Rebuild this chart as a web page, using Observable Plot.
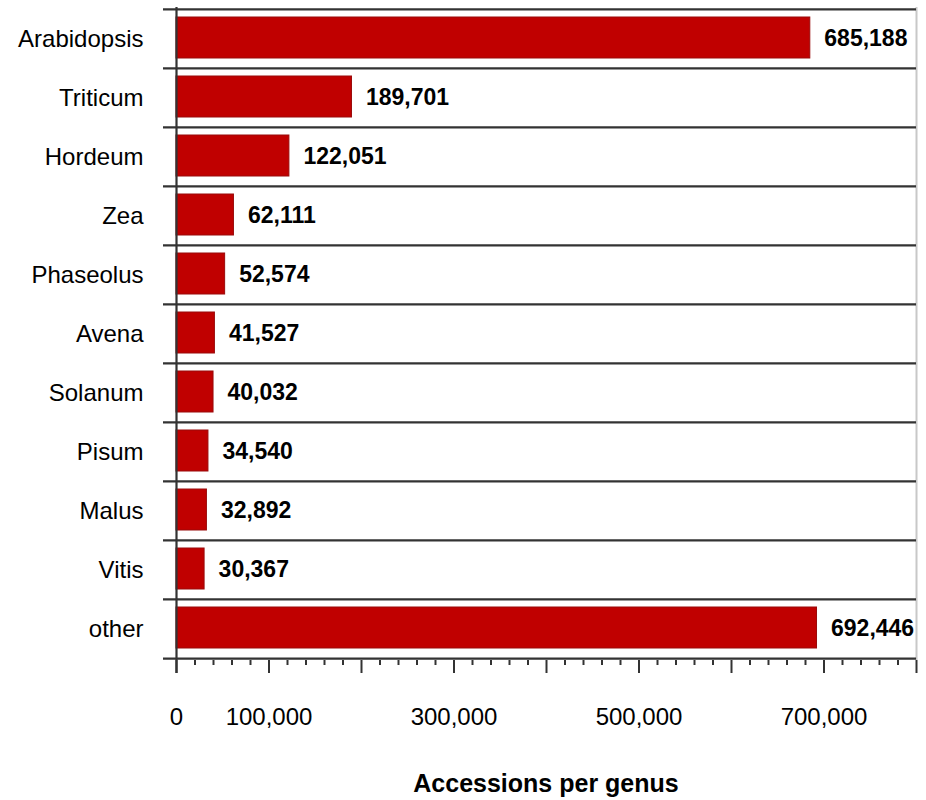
<!DOCTYPE html>
<html>
<head>
<meta charset="utf-8">
<script src="https://cdn.jsdelivr.net/npm/d3@7"></script>
<script src="https://cdn.jsdelivr.net/npm/@observablehq/plot@0.6"></script>
<style>
  body { margin: 0; background: white; font-family: "Liberation Sans", Arial, sans-serif; }
  #xlabel { margin-left: 176px; width: 740px; text-align: center; font-weight: bold; font-size: 25px; line-height: 46px; color: #000; }
</style>
</head>
<body>
<div id="chart"></div>
<div id="xlabel">Accessions per genus</div>
<script>
const genera = ["Arabidopsis", "Triticum", "Hordeum", "Zea", "Phaseolus", "Avena", "Solanum", "Pisum", "Malus", "Vitis", "other"];
const accessions = [685188, 189701, 122051, 62111, 52574, 41527, 40032, 34540, 32892, 30367, 692446];
const labelTicks = [0, 100000, 300000, 500000, 700000];
const majorTicks = [0, 100000, 200000, 300000, 400000, 500000, 600000, 700000, 800000];
const minorTicks = [20000, 40000, 60000, 80000, 120000, 140000, 160000, 180000, 220000, 240000, 260000, 280000,
  320000, 340000, 360000, 380000, 420000, 440000, 460000, 480000, 520000, 540000, 560000, 580000,
  620000, 640000, 660000, 680000, 720000, 740000, 760000, 780000];

const data = genera.map((g, i) => ({genus: g, value: accessions[i]}));

const W = 926, H = 760, mt = 7, mb = 100, ml = 176, mr = 10;
const bw = (H - mt - mb) / genera.length;
const fmt = d3.format(",");

const chart = Plot.plot({
  width: W,
  height: H,
  marginTop: mt,
  marginBottom: mb,
  marginLeft: ml,
  marginRight: mr,
  style: {fontFamily: "'Liberation Sans', Arial, sans-serif", background: "white"},
  x: {domain: [0, 800000]},
  y: {domain: genera, padding: 0},
  marks: [
    Plot.barX(data, {y: "genus", x: "value", fill: "#c00000", stroke: "#9a0a0a", strokeWidth: 1, insetTop: 8, insetBottom: 10}),
    Plot.ruleX([800000], {stroke: "#c8c8c8", strokeWidth: 2}),
    Plot.ruleY(genera, {y: d => d, dy: -bw / 2, stroke: "#333", strokeWidth: 2.2, insetLeft: -13}),
    Plot.ruleY([genera[genera.length - 1]], {y: d => d, dy: bw / 2, stroke: "#333", strokeWidth: 2.2, insetLeft: -13}),
    Plot.ruleX([0], {stroke: "#333", strokeWidth: 2.2, insetBottom: -13}),
    Plot.axisX({ticks: minorTicks, tickSize: 5, tickFormat: () => "", stroke: "#333", strokeWidth: 2, label: null}),
    Plot.axisX({ticks: majorTicks, tickSize: 13, tickFormat: () => "", stroke: "#333", strokeWidth: 2, label: null}),
    Plot.axisX({ticks: labelTicks, tickSize: 0, tickPadding: 47, tickFormat: fmt, fontSize: 24, fill: "#000", label: null}),
    Plot.axisY({tickSize: 0, tickPadding: 33, fontSize: 24, fill: "#000", label: null}),
    Plot.text(data, {x: "value", y: "genus", text: d => fmt(d.value), dx: 14, textAnchor: "start", fontWeight: "bold", fontSize: 23, fill: "#000"})
  ]
});
document.getElementById("chart").append(chart);
</script>
</body>
</html>
